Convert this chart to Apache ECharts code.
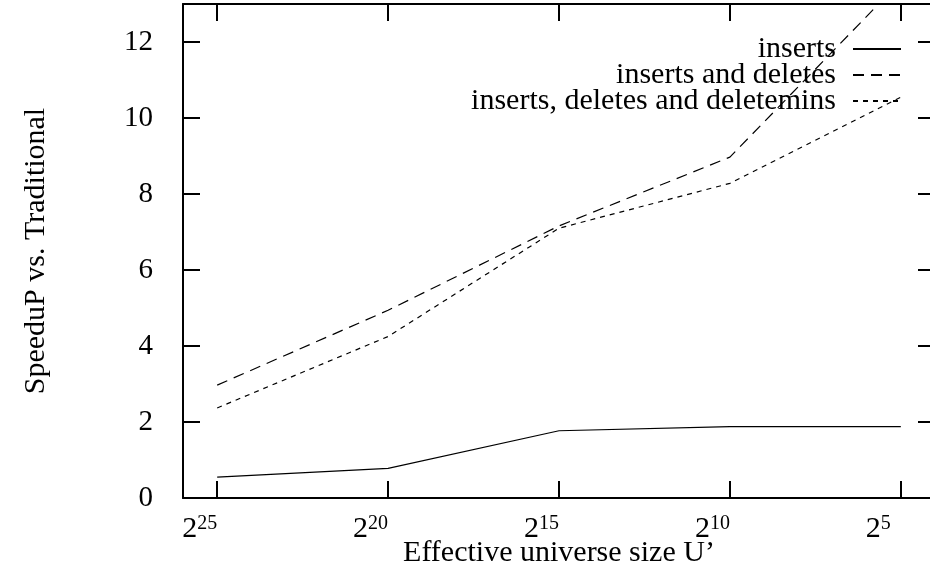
<!DOCTYPE html>
<html>
<head>
<meta charset="utf-8">
<script src="https://cdn.jsdelivr.net/npm/echarts@6/dist/echarts.min.js"></script>
<style>html,body{margin:0;padding:0;background:#fff}#c{width:930px;height:569px}</style>
</head>
<body>
<div id="c"></div>
<script>
const exponents = [25, 20, 15, 10, 5];
const inserts = [0.55, 0.78, 1.77, 1.88, 1.88];
const insertsDeletes = [2.97, 4.94, 7.16, 8.97, 13.6];
const insertsDeletesMins = [2.37, 4.25, 7.1, 8.28, 10.55];
const yTicks = [0, 2, 4, 6, 8, 10, 12];
const seriesNames = ['inserts', 'inserts and deletes', 'inserts, deletes and deletemins'];
const seriesValues = [inserts, insertsDeletes, insertsDeletesMins];
const dashes = ['solid', [11, 7], [5, 5]];

const FONT = 'Liberation Serif';
const chart = echarts.init(document.getElementById('c'));

const axisBase = {
  type: 'value',
  axisLine: { show: true, onZero: false, lineStyle: { color: '#000', width: 2 } },
  axisTick: { show: true, inside: true, length: 17, lineStyle: { color: '#000', width: 2 } },
  splitLine: { show: false }
};

chart.setOption({
  animation: false,
  backgroundColor: '#fff',
  grid: { left: 183, top: 4, width: 752, height: 494, outerBoundsMode: 'none', containLabel: false },
  xAxis: [
    Object.assign({}, axisBase, {
      position: 'bottom', min: 4, max: 26, inverse: true,
      axisTick: Object.assign({}, axisBase.axisTick, { customValues: exponents }),
      axisLabel: {
        customValues: exponents, margin: 16, align: 'right',
        formatter: v => '{b|2}{s|' + v + '}' + (v < 10 ? '{p| }' : ''),
        rich: {
          b: { fontFamily: FONT, fontSize: 30, color: '#000' },
          s: { fontFamily: FONT, fontSize: 20, color: '#000', verticalAlign: 'top', padding: [0, 0, 9, 0] },
          p: { fontFamily: FONT, fontSize: 20, width: 10 }
        }
      },
      name: 'Effective universe size U\u2019', nameLocation: 'middle', nameGap: 40, nameMoveOverlap: false,
      nameTextStyle: { fontFamily: FONT, fontSize: 30, color: '#000' }
    }),
    Object.assign({}, axisBase, {
      position: 'top', min: 4, max: 26, inverse: true,
      axisTick: Object.assign({}, axisBase.axisTick, { customValues: exponents }),
      axisLabel: { show: false }
    })
  ],
  yAxis: [
    Object.assign({}, axisBase, {
      position: 'left', min: 0, max: 13,
      axisTick: Object.assign({}, axisBase.axisTick, { customValues: yTicks }),
      axisLabel: { customValues: yTicks, margin: 30, fontFamily: FONT, fontSize: 29, color: '#000' },
      name: 'SpeeduP vs. Traditional', nameLocation: 'middle', nameRotate: 90, nameGap: 132, nameMoveOverlap: false,
      nameTextStyle: { fontFamily: FONT, fontSize: 30, color: '#000' }
    }),
    Object.assign({}, axisBase, {
      position: 'right', min: 0, max: 13,
      axisTick: Object.assign({}, axisBase.axisTick, { customValues: yTicks }),
      axisLabel: { show: false }
    })
  ],
  legend: seriesNames.map((n, i) => ({
    data: [n], right: 28, top: 34 + i * 26, align: 'right', padding: 0,
    itemWidth: 48, itemHeight: 14, selectedMode: false,
    itemStyle: { color: 'rgba(0,0,0,0)', borderColor: 'rgba(0,0,0,0)', borderWidth: 0 },
    lineStyle: { color: '#000' },
    textStyle: { fontFamily: FONT, fontSize: 30, color: '#000', padding: [0, 12, 0, 0] }
  })),
  series: seriesNames.map((n, i) => ({
    name: n, type: 'line', symbol: 'none', showSymbol: false,
    xAxisIndex: 0, yAxisIndex: 0, clip: true,
    lineStyle: { color: '#000', width: 1.2, type: dashes[i] },
    itemStyle: { color: '#000' },
    data: exponents.map((e, j) => [e, seriesValues[i][j]])
  }))
});
</script>
</body>
</html>
